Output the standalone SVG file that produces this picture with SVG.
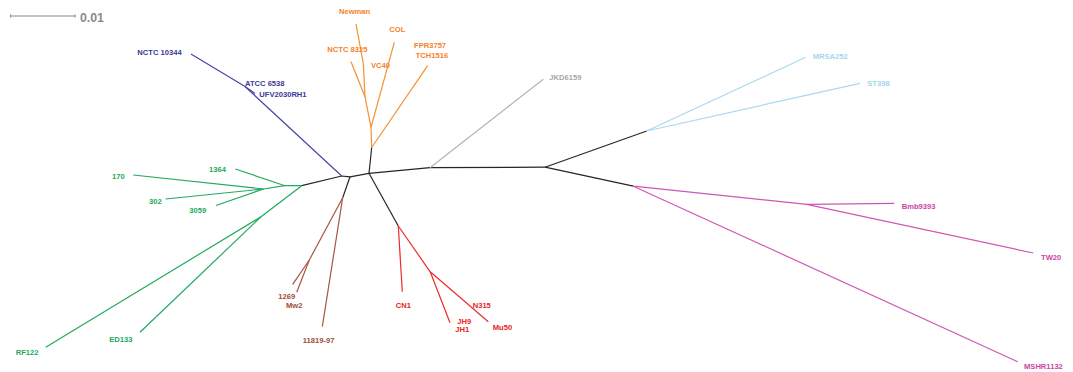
<svg xmlns="http://www.w3.org/2000/svg" width="1073" height="372" viewBox="0 0 1073 372">
<style>
text{font-family:"Liberation Sans",Arial,sans-serif;font-weight:bold;font-size:7.6px}
.e{fill:none;stroke-width:1.2;stroke-linejoin:round;stroke-linecap:butt}
.k{stroke:#262626}.b{stroke:#4646a8}.o{stroke:#f7902f}.g{stroke:#22a95e}.br{stroke:#a5573f}
.r{stroke:#ee2a2a}.gy{stroke:#b3b3b3}.c{stroke:#a9d9f0}.m{stroke:#d056b4}
.tb{fill:#3a3a96}.to{fill:#f5822a}.tg{fill:#1ea85a}.tbr{fill:#9c4f37}.tr{fill:#e82323}
.tgy{fill:#a6a6a6}.tc{fill:#a3d6ee}.tm{fill:#c9479f}
</style>
<rect width="1073" height="372" fill="#ffffff"/>
<g id="scale">
<path d="M10.7 16H75M10.7 14.3V17.7M75 14.3V17.7" stroke="#888" stroke-width="1" fill="none"/>
<text x="80" y="21.5" style="font-size:12.3px" fill="#8a8a8a">0.01</text>
</g>
<g id="connectors">
<path class="e k" d="M301.7 185.7L341.7 176L350 176.8L369 173.3L430 167.7L545 167.2"/>
<path class="e k" d="M350 176.8L342.7 197.7"/>
<path class="e k" d="M369 173.3L371.7 147.5"/>
<path class="e k" d="M369 173.3L398.3 226"/>
<path class="e k" d="M545 167.2L646.7 131"/>
<path class="e k" d="M545 167.2L633.3 186.2"/>
<path class="e b" d="M341.7 176L245 86.5L191 54"/>
<path class="e b" d="M245 86.5L255 93.5"/>
<path class="e o" d="M371.7 147.5L371 127.3L394.3 42.3"/>
<path class="e o" d="M371 127.3L365 96.7L363.3 63.3L356 24"/>
<path class="e o" d="M365 96.7L351 61.7"/>
<path class="e o" d="M371.7 147.5L427.7 65.7"/>
<path class="e g" d="M301.7 185.7L285 185.7L235.3 169"/>
<path class="e g" d="M285 185.7L263.3 189L133.3 175"/>
<path class="e g" d="M263.3 189L165.7 199"/>
<path class="e g" d="M263.3 189L216 205.5"/>
<path class="e g" d="M301.7 185.7L261 216.7L45.7 347.3"/>
<path class="e g" d="M261 216.7L140 332.3"/>
<path class="e br" d="M342.7 197.7L322.3 326.7"/>
<path class="e br" d="M342.7 197.7L309.3 260L292.7 284.3"/>
<path class="e br" d="M309.3 260L296.7 292.3"/>
<path class="e r" d="M398.3 226L402.3 291.7"/>
<path class="e r" d="M398.3 226L430.2 271.8L450 322.7"/>
<path class="e r" d="M430.2 271.8L488.3 321.7"/>
<path class="e gy" d="M430 167.7L543.3 79.3"/>
<path class="e c" d="M646.7 131L805.7 57.3"/>
<path class="e c" d="M646.7 131L860 83.3"/>
<path class="e m" d="M633.3 186.2L806.7 204.3L894.3 203.3"/>
<path class="e m" d="M806.7 204.3L1033.3 253"/>
<path class="e m" d="M633.3 186.2L1017.7 361.7"/>
</g>
<g id="n_NCTC10344"><text class="tb" x="137.3" y="55">NCTC 10344</text></g>
<g id="n_ATCC6538"><text class="tb" x="245" y="86">ATCC 6538</text></g>
<g id="n_UFV2030RH1"><text class="tb" x="259.3" y="96.7">UFV2030RH1</text></g>
<g id="n_Newman"><text class="to" x="339" y="14.4">Newman</text></g>
<g id="n_COL"><text class="to" x="389.3" y="32">COL</text></g>
<g id="n_NCTC8325"><text class="to" x="327.3" y="52.4">NCTC 8325</text></g>
<g id="n_FPR3757"><text class="to" x="414" y="48.4">FPR3757</text></g>
<g id="n_TCH1516"><text class="to" x="415.7" y="57.7">TCH1516</text></g>
<g id="n_VC40"><text class="to" x="371" y="68.4">VC40</text></g>
<g id="n_JKD6159"><text class="tgy" x="549.3" y="79.7">JKD6159</text></g>
<g id="n_MRSA252"><text class="tc" x="812.7" y="58.7">MRSA252</text></g>
<g id="n_ST398"><text class="tc" x="867.3" y="86.4">ST398</text></g>
<g id="n_Bmb9393"><text class="tm" x="901.7" y="208.7">Bmb9393</text></g>
<g id="n_TW20"><text class="tm" x="1041" y="260">TW20</text></g>
<g id="n_MSHR1132"><text class="tm" x="1024" y="369.4">MSHR1132</text></g>
<g id="n_1364"><text class="tg" x="209" y="171.7">1364</text></g>
<g id="n_170"><text class="tg" x="112" y="179.4">170</text></g>
<g id="n_302"><text class="tg" x="149" y="203.7">302</text></g>
<g id="n_3059"><text class="tg" x="189.3" y="213.4">3059</text></g>
<g id="n_ED133"><text class="tg" x="109.3" y="342">ED133</text></g>
<g id="n_RF122"><text class="tg" x="15.7" y="355.4">RF122</text></g>
<g id="n_1269"><text class="tbr" x="278.3" y="299.4">1269</text></g>
<g id="n_Mw2"><text class="tbr" x="286" y="308.4">Mw2</text></g>
<g id="n_11819-97"><text class="tbr" x="302.7" y="343.4">11819-97</text></g>
<g id="n_CN1"><text class="tr" x="395.7" y="307.7">CN1</text></g>
<g id="n_N315"><text class="tr" x="472.7" y="308.4">N315</text></g>
<g id="n_JH9"><text class="tr" x="457.3" y="323.7">JH9</text></g>
<g id="n_JH1"><text class="tr" x="455.3" y="332.4">JH1</text></g>
<g id="n_Mu50"><text class="tr" x="492.7" y="330.4">Mu50</text></g>
</svg>
